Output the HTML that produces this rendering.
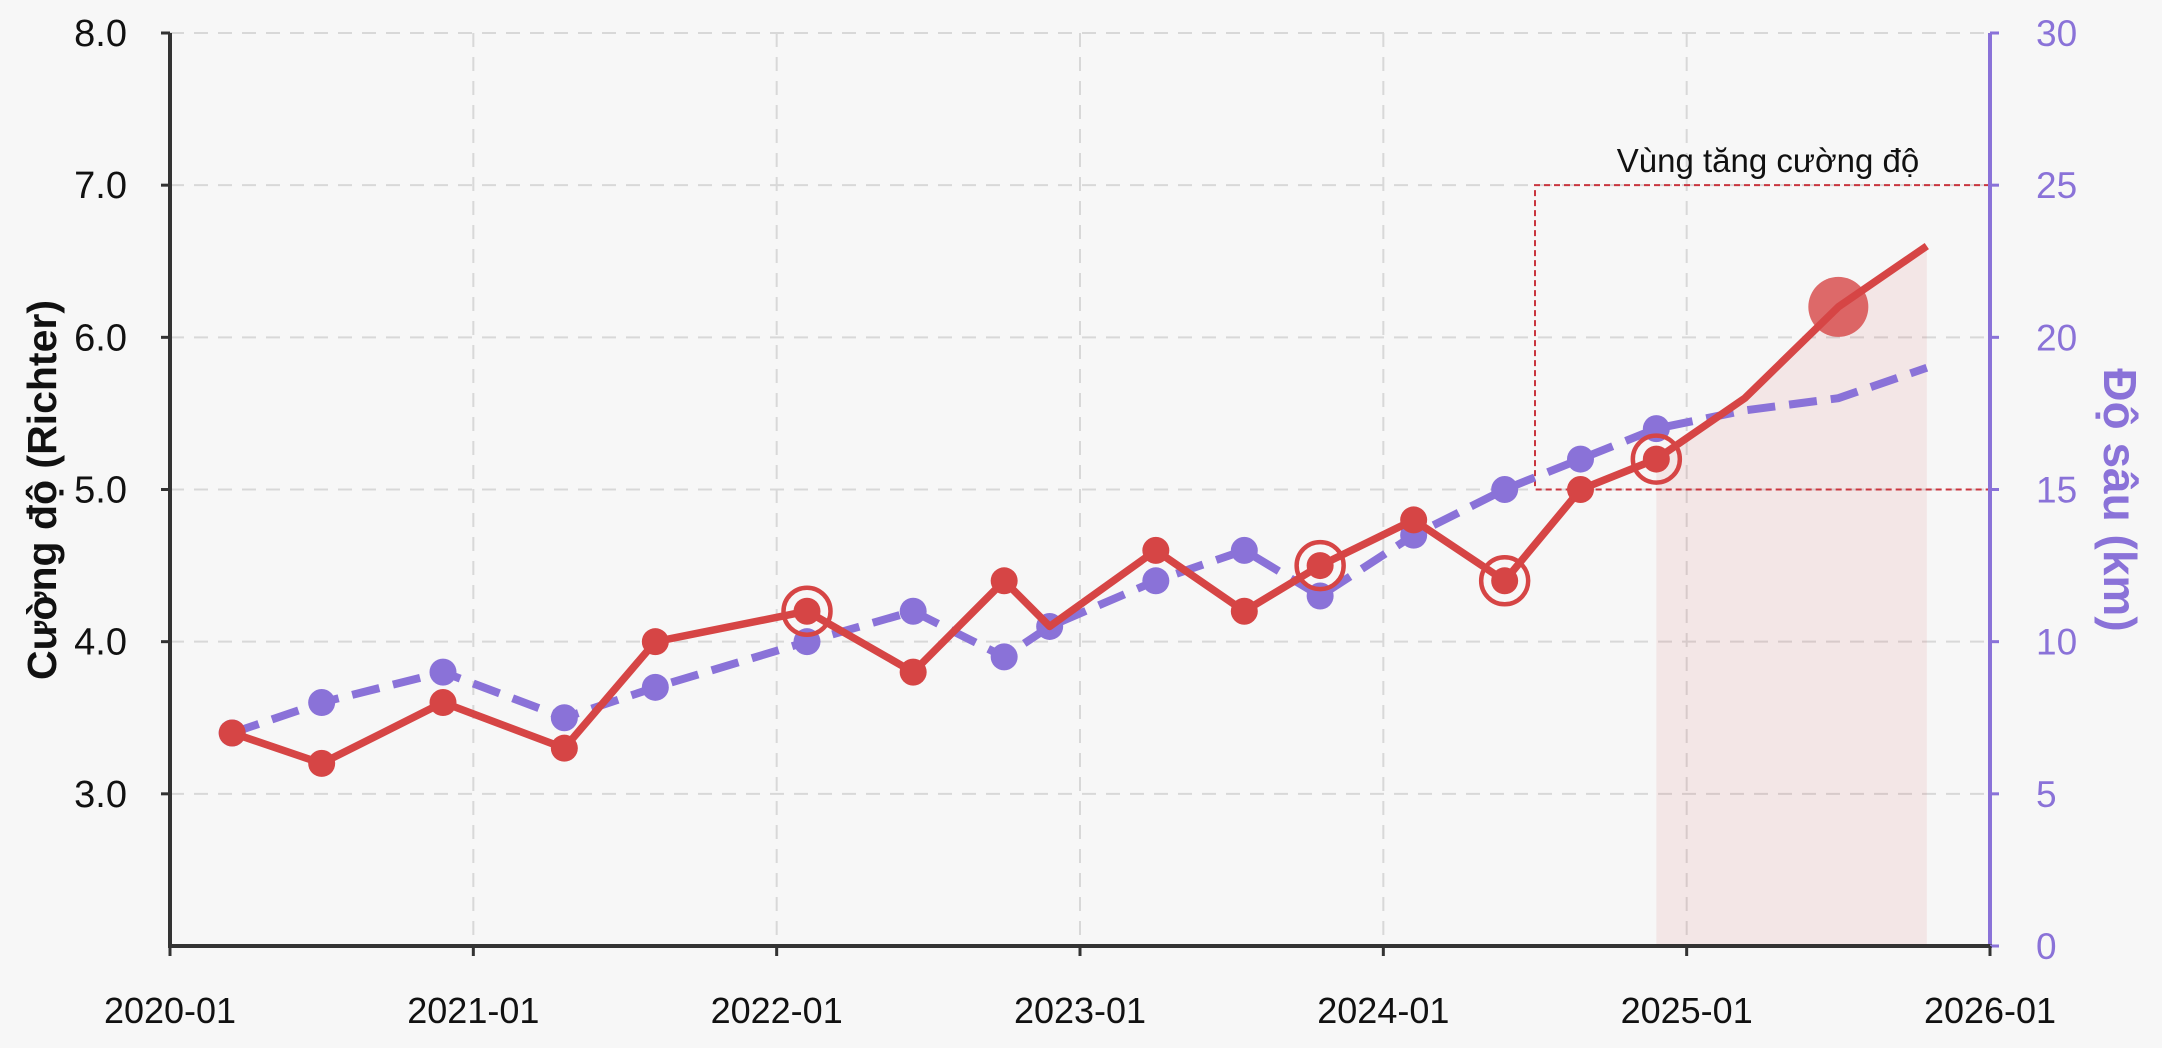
<!DOCTYPE html>
<html><head><meta charset="utf-8"><style>
html,body{margin:0;padding:0;background:#f7f7f7;}
svg{display:block;font-family:"Liberation Sans","DejaVu Sans",sans-serif;}
</style></head><body>
<svg id="chart" width="2162" height="1048" viewBox="0 0 2162 1048" xmlns="http://www.w3.org/2000/svg">
<rect width="2162" height="1048" fill="#f7f7f7"/>
<g id="grid"></g>
<g id="marks"></g>
<g id="axes"></g>
</svg>
<script>
// months since 2020-01
const monthsMag = [2.46, 6.0, 10.8, 15.6, 19.2, 25.2, 29.4, 33.0, 34.8, 39.0, 42.5, 45.5, 49.2, 52.8, 55.8, 58.8, 62.3, 66.0, 69.5];
const magnitude = [3.4, 3.2, 3.6, 3.3, 4.0, 4.2, 3.8, 4.4, 4.1, 4.6, 4.2, 4.5, 4.8, 4.4, 5.0, 5.2, 5.6, 6.2, 6.6];
const depth = [7, 8, 9, 7.5, 8.5, 10, 11, 9.5, 10.5, 12, 13, 11.5, 13.5, 15, 16, 17, 17.6, 18, 19];
const markerShown = [1,1,1,1,1,1,1,1,0,1,1,1,1,1,1,1,0,0,0];
const depthMarkerShown = [1,1,1,1,1,1,1,1,1,1,1,1,1,1,1,1,0,0,0];
const highlightIdx = [5, 11, 13, 15];
const bigIdx = [17];
const magTicks = [3.0, 4.0, 5.0, 6.0, 7.0, 8.0];
const depthTicks = [0, 5, 10, 15, 20, 25, 30];
const xTickLabels = ["2020-01","2021-01","2022-01","2023-01","2024-01","2025-01","2026-01"];
const xTickMonths = [0, 12, 24, 36, 48, 60, 72];
const shadeStartIdx = 15, shadeEndIdx = 18;
const boxMonthStart = 54.0, boxMagLow = 5.0, boxMagHigh = 7.0;

const L=170, R=1990, T=33, B=946;
const X = m => L + (m/72)*(R-L);
const Y = v => B - (v-2)/6*(B-T);
const YD = d => B - d/30*(B-T);
const NS="http://www.w3.org/2000/svg";
function mk(parent, tag, attrs){const e=document.createElementNS(NS,tag);for(const k in attrs)e.setAttribute(k,attrs[k]);document.getElementById(parent).appendChild(e);return e;}
const RED="#d64545", PUR="#8a72d8";

magTicks.forEach(v=>{const e=mk('grid','line',{x1:L,x2:R,y1:Y(v),y2:Y(v),stroke:'#d8d8d8','stroke-width':2,'stroke-dasharray':'14 10'});

});
xTickMonths.slice(1,-1).forEach(m=>{const e=mk('grid','line',{x1:X(m),x2:X(m),y1:T,y2:B,stroke:'#d8d8d8','stroke-width':2,'stroke-dasharray':'14 10'});

});

let pts=[];for(let i=shadeStartIdx;i<=shadeEndIdx;i++)pts.push(X(monthsMag[i])+','+Y(magnitude[i]));
pts.push(X(monthsMag[shadeEndIdx])+','+B);pts.push(X(monthsMag[shadeStartIdx])+','+B);
let sh=mk('marks','polygon',{points:pts.join(' '),fill:'rgba(214,69,69,0.09)'});



let bx=mk('marks','path',{d:`M${R},${Y(boxMagHigh)} L${X(boxMonthStart)},${Y(boxMagHigh)} L${X(boxMonthStart)},${Y(boxMagLow)} L${R},${Y(boxMagLow)}`,fill:'none',stroke:'#c9363f','stroke-width':2,'stroke-dasharray':'6 4'});


let bt=mk('marks','text',{x:1768,y:172,'font-size':33,'text-anchor':'middle',fill:'#111'});bt.textContent='Vùng tăng cường độ';



let dl=mk('marks','polyline',{points:monthsMag.map((m,i)=>X(m)+','+YD(depth[i])).join(' '),fill:'none',stroke:PUR,'stroke-width':8,'stroke-dasharray':'28 14'});


monthsMag.forEach((m,i)=>{if(!depthMarkerShown[i])return;const c=mk('marks','circle',{cx:X(m),cy:YD(depth[i]),r:13.5,fill:PUR});

});

let ml=mk('marks','polyline',{points:monthsMag.map((m,i)=>X(m)+','+Y(magnitude[i])).join(' '),fill:'none',stroke:RED,'stroke-width':7.5,'stroke-linejoin':'round'});


monthsMag.forEach((m,i)=>{if(!markerShown[i])return;const c=mk('marks','circle',{cx:X(m),cy:Y(magnitude[i]),r:13.5,fill:RED});

});
highlightIdx.forEach(i=>{const c=mk('marks','circle',{cx:X(monthsMag[i]),cy:Y(magnitude[i]),r:23.5,fill:'none',stroke:RED,'stroke-width':4.5});

});
bigIdx.forEach(i=>{const c=mk('marks','circle',{cx:X(monthsMag[i]),cy:Y(magnitude[i]),r:30,fill:'rgba(214,69,69,0.8)'});

});

let ls=mk('axes','line',{x1:L,x2:L,y1:T,y2:B+2,stroke:'#333','stroke-width':4});


let rs=mk('axes','line',{x1:R,x2:R,y1:T,y2:B+2,stroke:PUR,'stroke-width':4});


let bs=mk('axes','line',{x1:L-2,x2:R+2,y1:B,y2:B,stroke:'#333','stroke-width':4});


magTicks.forEach(v=>{mk('axes','line',{x1:L-9,x2:L,y1:Y(v),y2:Y(v),stroke:'#333','stroke-width':3});
const t=mk('axes','text',{x:127,y:Y(v)+13,'font-size':38,'text-anchor':'end',fill:'#111'});t.textContent=v.toFixed(1);

});
depthTicks.forEach(d=>{mk('axes','line',{x1:R,x2:R+9,y1:YD(d),y2:YD(d),stroke:PUR,'stroke-width':3});
const t=mk('axes','text',{x:2036,y:YD(d)+13,'font-size':37,fill:PUR});t.textContent=d;

});
xTickMonths.forEach((m,i)=>{mk('axes','line',{x1:X(m),x2:X(m),y1:B,y2:B+10,stroke:'#333','stroke-width':3});
const t=mk('axes','text',{x:X(m),y:1023,'font-size':36,'text-anchor':'middle',fill:'#111'});t.textContent=xTickLabels[i];

});
let yt=mk('axes','text',{x:0,y:0,'font-size':41,'font-weight':'bold','text-anchor':'middle',fill:'#111',transform:'translate(56,490) rotate(-90)'});yt.textContent='Cường độ (Richter)';


let y2=mk('axes','text',{x:0,y:0,'font-size':46,'font-weight':'bold','text-anchor':'middle',fill:PUR,transform:'translate(2104,500) rotate(90)'});y2.textContent='Độ sâu (km)';


</script>
</body></html>
